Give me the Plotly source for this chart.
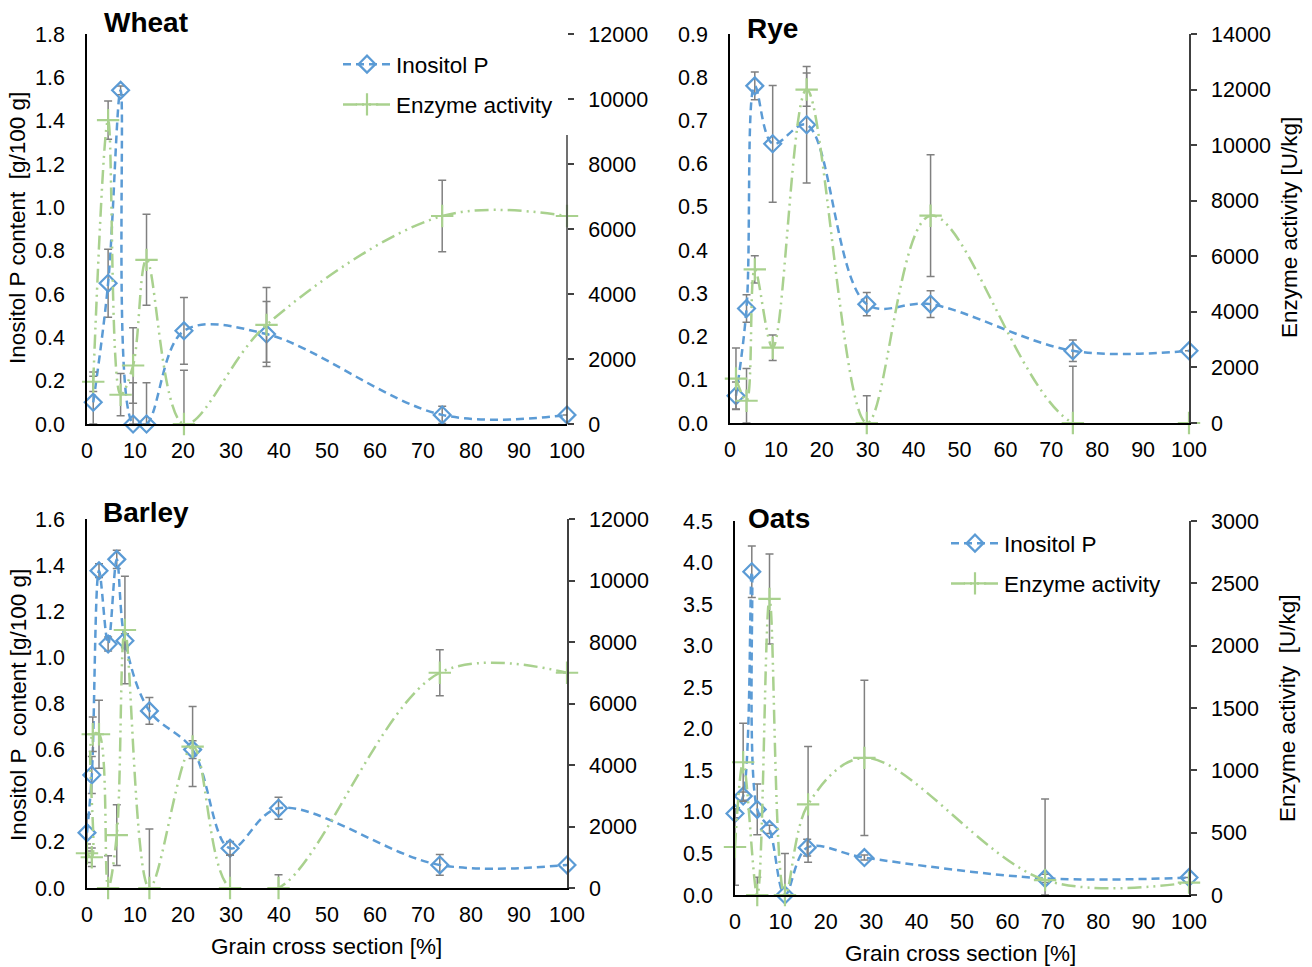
import plotly.graph_objects as go

# ---------------- DATA ----------------
# Wheat
wheat_x = [1.3, 4.4, 7.0, 9.6, 12.4, 20.2, 37.4, 74.0, 100]
wheat_ino = [0.10, 0.65, 1.54, 0.0, 0.0, 0.43, 0.415, 0.042, 0.042]
wheat_ino_err = [0.12, 0.157, 0.02, 0.19, 0.19, 0.154, 0.15, 0.04, 0.0]
wheat_enz = [1300, 9350, 900, 1800, 5050, 0, 3050, 6400, 6400]
wheat_enz_err = [300, 590, 650, 1160, 1400, 1650, 1150, 1100, 0]

# Rye
rye_x = [1.3, 3.6, 5.4, 9.3, 16.7, 29.8, 43.7, 74.7, 100]
rye_ino = [0.063, 0.265, 0.78, 0.646, 0.69, 0.275, 0.275, 0.167, 0.167]
rye_ino_err = [0.032, 0.032, 0.032, 0.135, 0.135, 0.027, 0.031, 0.025, 0.0]
rye_enz = [1600, 800, 5530, 2710, 12000, 0, 7460, 0, 0]
rye_enz_err = [1100, 1160, 490, 460, 600, 980, 2190, 2040, 0]

# Barley
barley_x_ino = [0.0, 1.0, 2.5, 4.4, 6.2, 7.9, 13.0, 22.0, 29.8, 39.9, 73.5, 100]
barley_ino = [0.24, 0.49, 1.376, 1.058, 1.425, 1.072, 0.768, 0.60, 0.172, 0.346, 0.10, 0.10]
barley_ino_err = [0.08, 0.08, 0.03, 0.03, 0.04, 0.03, 0.058, 0.038, 0.03, 0.048, 0.045, 0.0]
barley_x_enz = [0.0, 1.0, 1.2, 2.5, 4.4, 6.2, 7.9, 13.0, 22.0, 29.8, 39.9, 73.5, 100]
barley_enz = [1130, 1000, 5000, 5000, 0, 1720, 8390, 0, 4600, 0, 0, 7000, 7000]
barley_enz_err = [300, 300, 565, 1105, 1050, 990, 1745, 1920, 1300, 1070, 430, 750, 0]

# Oats
oats_x_ino = [0.0, 1.8, 3.7, 4.9, 7.6, 11.0, 15.9, 28.5, 68.3, 100]
oats_ino = [0.98, 1.19, 3.89, 1.03, 0.79, 0.0, 0.57, 0.45, 0.20, 0.21]
oats_ino_err = [0.05, 0.05, 0.31, 0.305, 0.05, 0.5, 0.1, 0.03, 0.05, 0.0]
oats_x_enz = [0.0, 1.8, 4.9, 7.6, 11.0, 16.1, 28.5, 68.3, 100]
oats_enz = [385, 1065, 0, 2375, 0, 727, 1100, 120, 100]
oats_enz_err = [307, 313, 142, 361, 0, 465, 623, 650, 0]

x_ticks = [0, 10, 20, 30, 40, 50, 60, 70, 80, 90, 100]

# ---------------- STYLE ----------------
W, H = 1312, 967
BLUE = "#5B9BD5"
GREEN = "#A9D18E"
ERR = "#808080"
FONT = "Arial, Liberation Sans, sans-serif"
TICK_FONT = dict(family=FONT, size=21.5, color="#000000")


def px_x(p):
    return p / W


def px_y(p):
    return 1 - p / H


def lower(vals, errs):
    return [min(e, v) for v, e in zip(vals, errs)]


fig = go.Figure()

panels = [
    dict(x="x", yl="y", yr="y2",
         xi=wheat_x, yi=wheat_ino, ei=wheat_ino_err,
         xe=wheat_x, ye=wheat_enz, ee=wheat_enz_err, legend="legend", show=True),
    dict(x="x2", yl="y3", yr="y4",
         xi=rye_x, yi=rye_ino, ei=rye_ino_err,
         xe=rye_x, ye=rye_enz, ee=rye_enz_err, legend="legend", show=False),
    dict(x="x3", yl="y5", yr="y6",
         xi=barley_x_ino, yi=barley_ino, ei=barley_ino_err,
         xe=barley_x_enz, ye=barley_enz, ee=barley_enz_err, legend="legend", show=False),
    dict(x="x4", yl="y7", yr="y8",
         xi=oats_x_ino, yi=oats_ino, ei=oats_ino_err,
         xe=oats_x_enz, ye=oats_enz, ee=oats_enz_err, legend="legend2", show=True),
]

for i, p in enumerate(panels):
    fig.add_trace(go.Scatter(
        x=p["xi"], y=p["yi"], xaxis=p["x"], yaxis=p["yl"],
        mode="lines+markers", name="Inositol P",
        line=dict(color=BLUE, width=2.5, dash="8px,5px", shape="spline", smoothing=1.0),
        marker=dict(symbol="diamond-open", size=13, color=BLUE, line=dict(width=2.2, color=BLUE)),
        error_y=dict(type="data", array=p["ei"], arrayminus=lower(p["yi"], p["ei"]),
                     color=ERR, thickness=1.5, width=4),
        cliponaxis=False, showlegend=p["show"], legend=p["legend"],
        legendgroup=f"ino{i}",
    ))
    fig.add_trace(go.Scatter(
        x=p["xe"], y=p["ye"], xaxis=p["x"], yaxis=p["yr"],
        mode="lines+markers", name="Enzyme activity",
        line=dict(color=GREEN, width=2.5, dash="14px,5px,2px,5px,2px,5px", shape="spline", smoothing=1.0),
        marker=dict(symbol="cross-thin-open", size=16, color=GREEN, line=dict(width=2.2, color=GREEN)),
        error_y=dict(type="data", array=p["ee"], arrayminus=lower(p["ye"], p["ee"]),
                     color=ERR, thickness=1.5, width=4),
        cliponaxis=False, showlegend=p["show"], legend=p["legend"],
        legendgroup=f"enz{i}",
    ))

# ---------------- AXES ----------------
domains = {
    "wheat": dict(x=[px_x(87), px_x(567)], y=[px_y(424), px_y(34)]),
    "rye": dict(x=[px_x(730), px_x(1189)], y=[px_y(423), px_y(34)]),
    "barley": dict(x=[px_x(87), px_x(567)], y=[px_y(888), px_y(519)]),
    "oats": dict(x=[px_x(735), px_x(1189)], y=[px_y(895), px_y(521)]),
}


def xaxis(dom, anchor):
    return dict(domain=dom, anchor=anchor, range=[0, 100], tickvals=x_ticks,
                showline=True, linecolor="#000000", linewidth=1.5, ticks="",
                showgrid=False, zeroline=False, tickfont=TICK_FONT, ticklabelstandoff=6)


def yleft(dom, anchor, rng, dtick):
    return dict(domain=dom, anchor=anchor, range=rng, dtick=dtick, tickformat=".1f",
                showline=True, linecolor="#000000", linewidth=1.5, ticks="",
                showgrid=False, zeroline=False, tickfont=TICK_FONT, ticklabelstandoff=16)


def yright(overlay, anchor, rng, dtick, showline=True):
    return dict(overlaying=overlay, anchor=anchor, side="right", range=rng, dtick=dtick,
                tickformat="d",
                showline=showline, linecolor="#404040", linewidth=1.5,
                ticks="outside", ticklen=6, tickwidth=1.5, tickcolor="#404040",
                showgrid=False, zeroline=False, tickfont=TICK_FONT, ticklabelstandoff=10)


fig.update_layout(
    xaxis=xaxis(domains["wheat"]["x"], "y"),
    yaxis=yleft(domains["wheat"]["y"], "x", [0, 1.8], 0.2),
    yaxis2=yright("y", "x", [0, 12000], 2000, showline=False),
    xaxis2=xaxis(domains["rye"]["x"], "y3"),
    yaxis3=yleft(domains["rye"]["y"], "x2", [0, 0.9], 0.1),
    yaxis4=yright("y3", "x2", [0, 14000], 2000),
    xaxis3=xaxis(domains["barley"]["x"], "y5"),
    yaxis5=yleft(domains["barley"]["y"], "x3", [0, 1.6], 0.2),
    yaxis6=yright("y5", "x3", [0, 12000], 2000),
    xaxis4=xaxis(domains["oats"]["x"], "y7"),
    yaxis7=yleft(domains["oats"]["y"], "x4", [0, 4.5], 0.5),
    yaxis8=yright("y7", "x4", [0, 3000], 500),
)

# wheat right axis line only below the legend
fig.add_shape(type="line", xref="paper", yref="paper",
              x0=px_x(567), x1=px_x(567), y0=px_y(424), y1=px_y(135),
              line=dict(color="#404040", width=1.5))

# ---------------- TEXT ----------------
ann = []


def add_text(text, x, y, size=22.5, bold=False, angle=0, xanchor="center"):
    ann.append(dict(text=f"<b>{text}</b>" if bold else text, x=px_x(x), y=px_y(y),
                    xref="paper", yref="paper", showarrow=False, textangle=angle,
                    xanchor=xanchor, yanchor="middle",
                    font=dict(family=FONT, size=size, color="#000000")))


add_text("Wheat", 102, 22, size=28, bold=True, xanchor="left")
add_text("Rye", 745, 28, size=28, bold=True, xanchor="left")
add_text("Barley", 101, 512, size=28, bold=True, xanchor="left")
add_text("Oats", 746, 518, size=28, bold=True, xanchor="left")

add_text("Inositol P content  [g/100 g]", 18, 228, angle=-90)
add_text("Inositol P  content [g/100 g]", 18, 705, angle=-90)
add_text("Enzyme activity [U/kg]", 1290, 228, angle=-90)
add_text("Enzyme activity  [U/kg]", 1287, 708, angle=-90)
add_text("Grain cross section [%]", 326, 946)
add_text("Grain cross section [%]", 960, 953)

legend_common = dict(font=dict(family=FONT, size=22.5, color="#000000"),
                     bgcolor="rgba(255,255,255,0)", borderwidth=0,
                     traceorder="grouped", tracegroupgap=8, itemwidth=48,
                     xanchor="left", yanchor="top")

fig.update_layout(
    annotations=ann,
    width=W, height=H,
    margin=dict(l=0, r=0, t=0, b=0, autoexpand=False),
    paper_bgcolor="white", plot_bgcolor="white",
    legend=dict(x=px_x(338), y=px_y(43), **legend_common),
    legend2=dict(x=px_x(946), y=px_y(522), **legend_common),
)

fig.write_html("out.html")
